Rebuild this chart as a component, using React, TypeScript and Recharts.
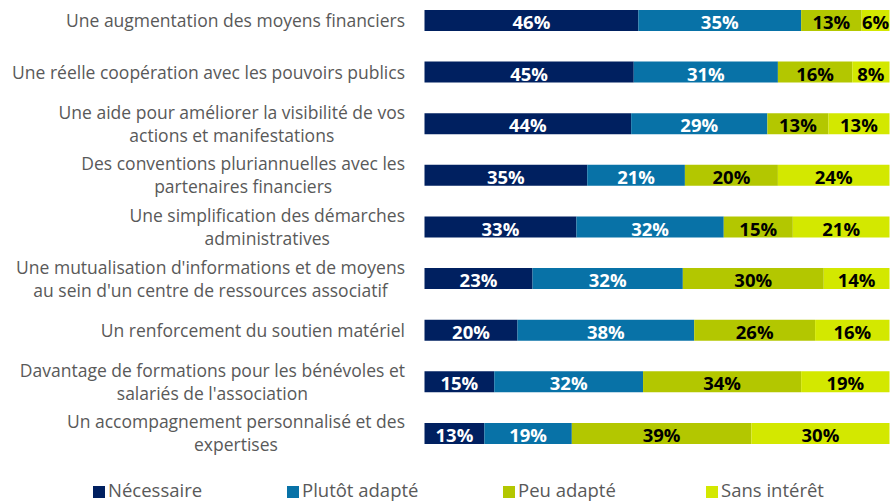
import React from 'react';
import { Bar, BarChart, LabelList, XAxis, YAxis } from 'recharts';

const categories = [
  'Une augmentation des moyens financiers',
  'Une réelle coopération avec les pouvoirs publics',
  'Une aide pour améliorer la visibilité de vos\nactions et manifestations',
  'Des conventions pluriannuelles avec les\npartenaires financiers',
  'Une simplification des démarches\nadministratives',
  "Une mutualisation d'informations et de moyens\nau sein d'un centre de ressources associatif",
  'Un renforcement du soutien matériel',
  'Davantage de formations pour les bénévoles et\nsalariés de l\'association',
  'Un accompagnement personnalisé et des\nexpertises',
];

const necessaire = [46, 45, 44, 35, 33, 23, 20, 15, 13];
const plutotAdapte = [35, 31, 29, 21, 32, 32, 38, 32, 19];
const peuAdapte = [13, 16, 13, 20, 15, 30, 26, 34, 39];
const sansInteret = [6, 8, 13, 24, 21, 14, 16, 19, 30];

const series = [
  { key: 'necessaire', name: 'Nécessaire', color: '#002060', text: '#ffffff' },
  { key: 'plutot', name: 'Plutôt adapté', color: '#0872a7', text: '#ffffff' },
  { key: 'peu', name: 'Peu adapté', color: '#b3c700', text: '#000000' },
  { key: 'sans', name: 'Sans intérêt', color: '#d3e800', text: '#000000' },
];

const data = categories.map((name, i) => ({
  name,
  necessaire: necessaire[i],
  plutot: plutotAdapte[i],
  peu: peuAdapte[i],
  sans: sansInteret[i],
}));

const FONT = '"Open Sans", sans-serif';
const TICK_FONT_SIZE = 17.5;
const LABEL_RIGHT = 405;
const LINE_HEIGHT = 23;
const LEGEND_ITEM_WIDTHS = [194, 216, 203, 150];

let ctx: CanvasRenderingContext2D | null = null;
const measure = (s: string) => {
  if (!ctx) ctx = document.createElement('canvas').getContext('2d');
  if (!ctx) return s.length * 8;
  ctx.font = `${TICK_FONT_SIZE}px ${FONT}`;
  return ctx.measureText(s).width;
};

const CategoryTick = (props: any) => {
  const { y, payload } = props;
  const lines: string[] = String(payload.value).split('\n');
  const w = Math.max(...lines.map(measure));
  const cx = LABEL_RIGHT - w / 2;
  const y0 = y - ((lines.length - 1) * LINE_HEIGHT) / 2;
  return (
    <text
      x={cx}
      y={y0}
      textAnchor="middle"
      fill="#595959"
      fontSize={TICK_FONT_SIZE}
      fontFamily={FONT}
    >
      {lines.map((l, i) => (
        <tspan key={i} x={cx} y={y0 + i * LINE_HEIGHT} dy="0.35em">
          {l}
        </tspan>
      ))}
    </text>
  );
};

const ChartLegend = () => (
  <div
    style={{
      position: 'absolute',
      top: 478,
      left: 93,
      display: 'flex',
      alignItems: 'center',
      fontFamily: FONT,
      fontSize: 18.5,
      lineHeight: '24px',
      color: '#595959',
      whiteSpace: 'nowrap',
    }}
  >
    {series.map((s, i) => (
      <div key={s.key} style={{ display: 'flex', alignItems: 'center', width: LEGEND_ITEM_WIDTHS[i] }}>
        <span style={{ width: 12, height: 12, background: s.color, marginRight: 3, marginTop: 3, display: 'inline-block' }} />
        <span>{s.name}</span>
      </div>
    ))}
  </div>
);

export default function App() {
  return (
    <div style={{ position: 'absolute', left: 0, top: 0, width: 890, height: 501, overflow: 'hidden', background: '#fff' }}>
      <div style={{ position: 'absolute', left: 0, top: -5 }}>
        <BarChart
          width={890}
          height={506}
          data={data}
          layout="vertical"
          stackOffset="expand"
          margin={{ top: 0, right: 0.5, bottom: 41.4, left: 0 }}
        >
          <XAxis type="number" hide domain={[0, 1]} />
          <YAxis
            type="category"
            dataKey="name"
            width={424.5}
            axisLine={false}
            tickLine={false}
            interval={0}
            tick={<CategoryTick />}
          />
          {series.map((s) => (
            <Bar
              key={s.key}
              dataKey={s.key}
              name={s.name}
              stackId="a"
              fill={s.color}
              barSize={21}
              isAnimationActive={false}
            >
              <LabelList
                dataKey={s.key}
                position="center"
                formatter={(v: any) => `${v}%`}
                fill={s.text}
                fontSize={18.5}
                fontWeight="bold"
                fontFamily={FONT}
                dy={2}
              />
            </Bar>
          ))}
        </BarChart>
      </div>
      <ChartLegend />
    </div>
  );
}
